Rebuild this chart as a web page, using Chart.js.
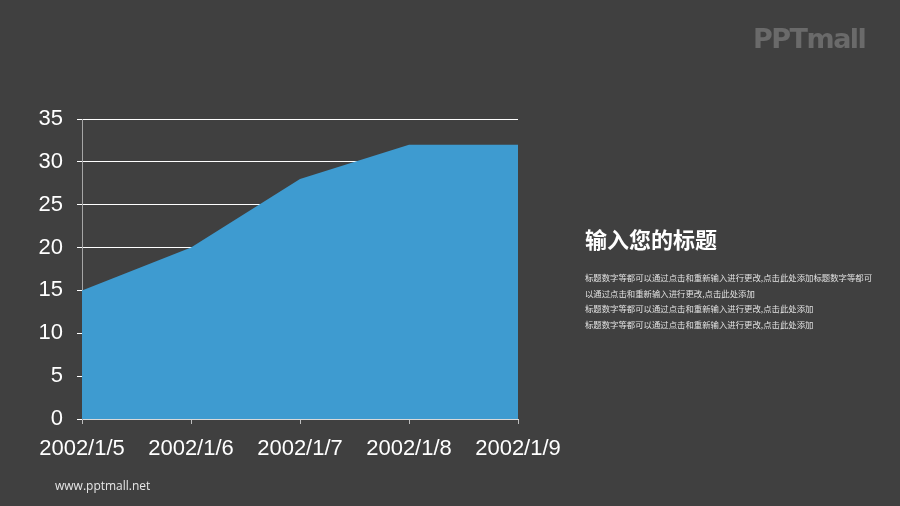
<!DOCTYPE html>
<html>
<head>
<meta charset="utf-8">
<script src="https://cdn.jsdelivr.net/npm/chart.js@4"></script>
<style>
  html, body { margin: 0; padding: 0; background: #404040; }
  body { width: 900px; height: 506px; position: relative; overflow: hidden; font-family: 'Liberation Sans', Arial, sans-serif; }
  #wrap { position: absolute; left: 0; top: 0; width: 900px; height: 506px; }
  .logo { position: absolute; left: 753px; top: 23px; font: bold 27px 'DejaVu Sans', sans-serif; color: #6a6a6a; letter-spacing: -1.5px; }
  .site { position: absolute; left: 55px; top: 477px; font: 12px 'Open Sans', sans-serif; color: #e6e6e6; }
  .title { position: absolute; left: 585px; top: 222px; font: bold 22px 'Noto Sans CJK SC', sans-serif; color: #ffffff; }
  .body { position: absolute; left: 585px; top: 270px; width: 300px; font: 8.4px/15.5px 'Noto Sans CJK SC', sans-serif; color: #e0e0e0; }
</style>
</head>
<body>
<div id="wrap"><canvas id="chartArea"></canvas></div>
<div class="logo">PPTmall</div>
<div class="title">输入您的标题</div>
<div class="body">标题数字等都可以通过点击和重新输入进行更改,点击此处添加标题数字等都可<br>以通过点击和重新输入进行更改,点击此处添加<br>标题数字等都可以通过点击和重新输入进行更改,点击此处添加<br>标题数字等都可以通过点击和重新输入进行更改,点击此处添加</div>
<div class="site">www.pptmall.net</div>
<script>
const dates = ['2002/1/5', '2002/1/6', '2002/1/7', '2002/1/8', '2002/1/9'];
const values = [15, 20, 28, 32, 32];

Chart.defaults.font.family = "'Liberation Sans', Arial, sans-serif";
Chart.defaults.color = '#ffffff';

const ctx = document.getElementById('chartArea').getContext('2d');
new Chart(ctx, {
    type: 'line',
    data: {
        labels: dates,
        datasets: [{
            data: values,
            fill: 'origin',
            backgroundColor: '#3e9bd0',
            borderColor: '#3e9bd0',
            borderWidth: 0,
            pointRadius: 0,
            tension: 0
        }]
    },
    options: {
        responsive: true,
        maintainAspectRatio: false,
        animation: false,
        layout: { padding: { left: 0, top: 119, right: 382, bottom: 0 } },
        plugins: { legend: { display: false }, tooltip: { enabled: false } },
        scales: {
            x: {
                offset: false,
                grid: { display: true, drawOnChartArea: false, drawTicks: true, tickLength: 5, tickColor: '#bfbfbf' },
                border: { display: true, color: '#d9d9d9' },
                ticks: { font: { size: 22 }, color: '#ffffff', padding: 12, maxRotation: 0, autoSkip: false },
                afterFit: s => { s.height = 87; }
            },
            y: {
                min: 0, max: 35,
                grid: { color: '#ffffff', tickColor: '#ffffff', tickLength: 5, lineWidth: 1 },
                border: { display: true, color: '#a6a6a6', width: 1 },
                ticks: { stepSize: 5, font: { size: 22 }, color: '#ffffff', padding: 14 },
                afterFit: s => { s.width = 82; }
            }
        }
    }
});
</script>
</body>
</html>
